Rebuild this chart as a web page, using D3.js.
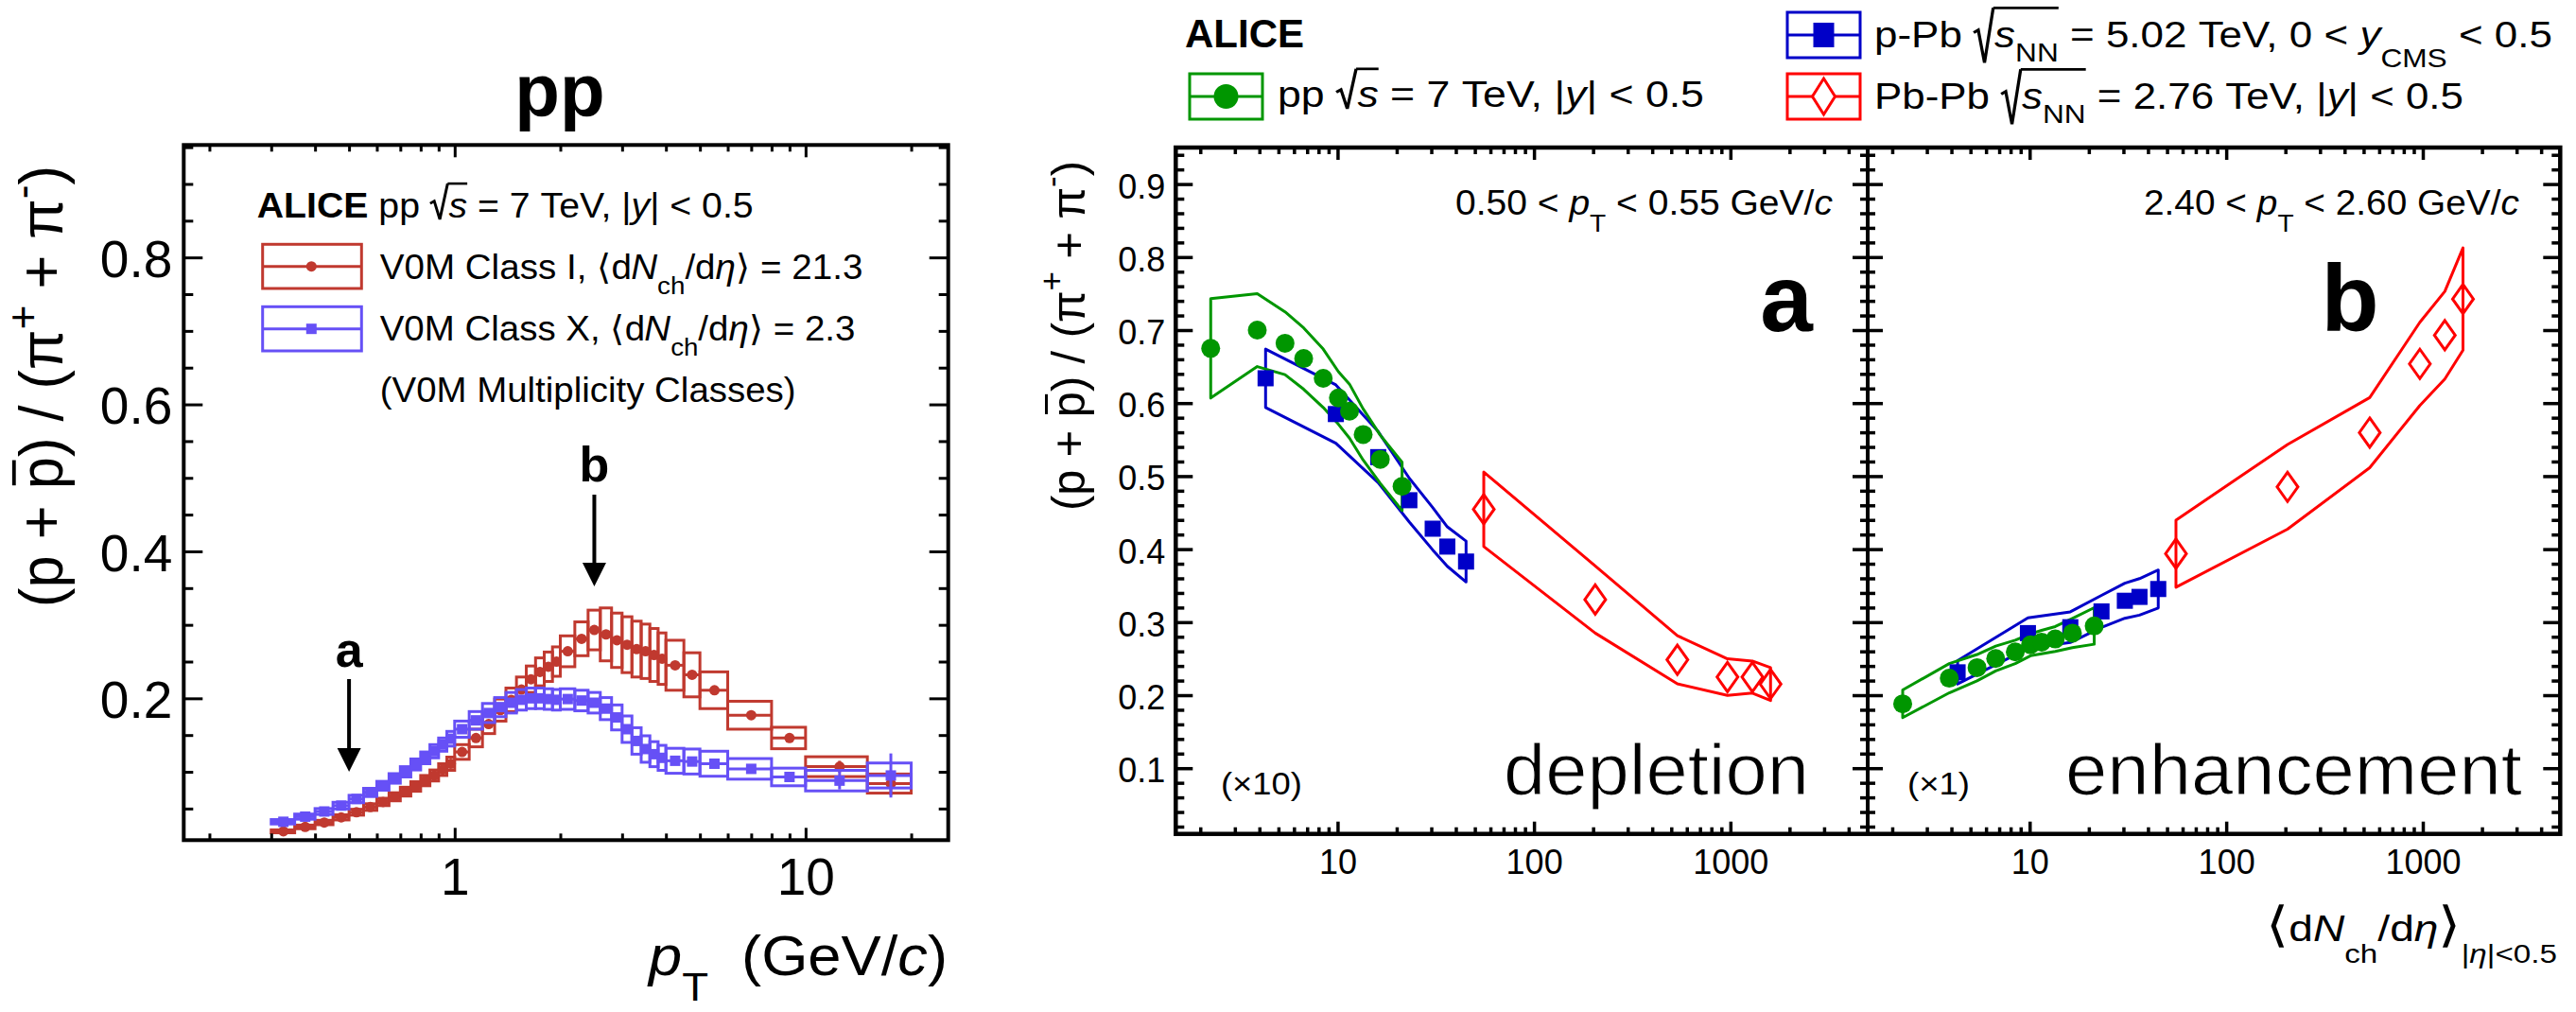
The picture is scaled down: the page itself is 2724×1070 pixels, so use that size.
<!DOCTYPE html>
<html>
<head>
<meta charset="utf-8">
<script src="https://cdn.jsdelivr.net/npm/d3@7/dist/d3.min.js"></script>
<style>
html, body { margin: 0; padding: 0; background: #fff; }
svg { display: block; }
text { font-family: "Liberation Sans", Arial, Helvetica, sans-serif; fill: #000; }
</style>
</head>
<body>
<svg id="fig" width="2724" height="1070"></svg>
<script>
// ---------------- pp 7 TeV: (p+pbar)/(pi+ + pi-) vs pT, two V0M classes ----------------
const ptEdges = [0.30, 0.35, 0.40, 0.45, 0.50, 0.55, 0.60, 0.65, 0.70, 0.75, 0.80, 0.85, 0.90, 0.95,
  1.0, 1.1, 1.2, 1.3, 1.4, 1.5, 1.6, 1.7, 1.8, 1.9,
  2.0, 2.2, 2.4, 2.6, 2.8, 3.0, 3.2, 3.4, 3.6, 3.8, 4.0,
  4.5, 5.0, 6.0, 8.0, 10, 15, 20];

// V0M Class I, <dNch/deta> = 21.3
const classIRatio = [0.019, 0.025, 0.031, 0.038, 0.045, 0.052, 0.059, 0.066, 0.073, 0.080, 0.088, 0.095, 0.103, 0.111,
  0.127, 0.146, 0.165, 0.184, 0.198, 0.212, 0.226, 0.236, 0.243, 0.250,
  0.264, 0.281, 0.293, 0.287, 0.279, 0.273, 0.267, 0.264, 0.259, 0.254,
  0.245, 0.232, 0.211, 0.177, 0.146, 0.107, 0.084];
const classISys = [0.002, 0.0025, 0.003, 0.0035, 0.004, 0.0045, 0.005, 0.0055, 0.006, 0.0065, 0.007, 0.0075, 0.008, 0.009,
  0.010, 0.012, 0.013, 0.015, 0.016, 0.017, 0.018, 0.019, 0.020, 0.020,
  0.021, 0.023, 0.027, 0.036, 0.037, 0.038, 0.038, 0.037, 0.036, 0.035,
  0.034, 0.030, 0.025, 0.019, 0.0146, 0.0135, 0.013];
const classIStat = [0.001, 0.001, 0.001, 0.001, 0.001, 0.001, 0.001, 0.001, 0.001, 0.001, 0.001, 0.001, 0.001, 0.001,
  0.001, 0.001, 0.001, 0.001, 0.001, 0.001, 0.001, 0.001, 0.001, 0.001,
  0.001, 0.001, 0.001, 0.001, 0.001, 0.001, 0.001, 0.001, 0.001, 0.001,
  0.002, 0.002, 0.002, 0.003, 0.005, 0.008, 0.016];

// V0M Class X, <dNch/deta> = 2.3
const classXRatio = [0.032, 0.039, 0.046, 0.054, 0.063, 0.072, 0.081, 0.091, 0.100, 0.110, 0.119, 0.128, 0.137, 0.145,
  0.158, 0.170, 0.180, 0.188, 0.194, 0.198, 0.200, 0.200, 0.199, 0.198,
  0.199, 0.197, 0.194, 0.186, 0.174, 0.158, 0.142, 0.131, 0.124, 0.119,
  0.115, 0.114, 0.111, 0.104, 0.093, 0.088, 0.095];
const classXSys = [0.003, 0.0035, 0.004, 0.0045, 0.005, 0.0055, 0.006, 0.0065, 0.007, 0.0075, 0.008, 0.009, 0.009, 0.010,
  0.011, 0.012, 0.013, 0.013, 0.014, 0.014, 0.014, 0.014, 0.014, 0.014,
  0.014, 0.014, 0.014, 0.015, 0.017, 0.018, 0.018, 0.018, 0.017, 0.017,
  0.017, 0.017, 0.017, 0.014, 0.012, 0.014, 0.017];
const classXStat = [0.001, 0.001, 0.001, 0.001, 0.001, 0.001, 0.001, 0.001, 0.001, 0.001, 0.001, 0.001, 0.001, 0.001,
  0.001, 0.001, 0.001, 0.001, 0.001, 0.001, 0.001, 0.001, 0.001, 0.001,
  0.001, 0.001, 0.001, 0.001, 0.001, 0.001, 0.001, 0.001, 0.001, 0.001,
  0.003, 0.003, 0.003, 0.004, 0.006, 0.012, 0.030];

// pT positions of the two highlighted intervals
const markerPt = { a: 0.5, b: 2.5 };

// ---------------- ratio vs <dNch/deta>, three collision systems ----------------
// low-pT values (0.50 < pT < 0.55 GeV/c) are shown multiplied by 10
const lowPtScale = 10;
const ppDnch = [2.26, 3.90, 5.40, 6.72, 8.45, 10.1, 11.5, 13.5, 16.5, 21.3];
const ppRatioLowPt = [0.0675, 0.0700, 0.0682, 0.0661, 0.0634, 0.0607, 0.0589, 0.0557, 0.0523, 0.0486];
const ppSysLowPt = [0.0068, 0.0050, 0.0043, 0.0042, 0.0040, 0.0036, 0.0037, 0.0035, 0.0033, 0.0033];
const ppRatioHighPt = [0.1882, 0.2232, 0.2377, 0.2502, 0.2593, 0.2690, 0.2727, 0.2770, 0.2850, 0.2948];
const ppSysHighPt = [0.019, 0.020, 0.018, 0.017, 0.016, 0.015, 0.016, 0.017, 0.020, 0.025];

const pPbDnch = [4.3, 9.8, 16.1, 23.2, 30.5, 36.2, 45.1];
const pPbRatioLowPt = [0.0634, 0.0585, 0.0526, 0.0467, 0.0428, 0.04035, 0.0383];
const pPbSysLowPt = [0.0040, 0.0040, 0.0035, 0.0030, 0.0029, 0.0027, 0.0028];
const pPbRatioHighPt = [0.2313, 0.2850, 0.2931, 0.3147, 0.3293, 0.3346, 0.3454];
const pPbSysHighPt = [0.016, 0.021, 0.021, 0.022, 0.024, 0.025, 0.026];

const PbPbDnch = [55.5, 205, 537, 966, 1294, 1601];
const PbPbRatioLowPt = [0.04546, 0.0331, 0.02485, 0.02248, 0.02248, 0.02152];
const PbPbSysLowPt = [0.0051, 0.0046, 0.0033, 0.0025, 0.0022, 0.00225];
const PbPbRatioHighPt = [0.3938, 0.4853, 0.5595, 0.6537, 0.6930, 0.7425];
const PbPbSysHighPt = [0.046, 0.058, 0.048, 0.057, 0.060, 0.070];

// axis tick values
const leftXMajor = [1, 10];
const leftYMajor = [0.2, 0.4, 0.6, 0.8];
const rightXMajor = [10, 100, 1000];
const rightYMajor = [0.1, 0.2, 0.3, 0.4, 0.5, 0.6, 0.7, 0.8, 0.9];

// ---------------- colours ----------------
const C = {
  classI: "#c0392f", classX: "#6650f6",
  pp: "#009600", pPb: "#0000c8", PbPb: "#ff0000"
};

const fig = d3.select("#fig");
const SERIF = '"Liberation Serif", "DejaVu Serif", "Times New Roman", serif';

// ---------------- rich text: italics, sub/superscripts, radicals, overlines ----------------
function rich(parent, parts, o) {
  const f = o.size;
  const g = parent.append("g")
    .attr("transform", `translate(${o.x},${o.y})${o.rotate ? ` rotate(${o.rotate})` : ""}`);
  const inner = g.append("g");
  const col = o.color || "#000";
  let cx = 0, rad = null;
  parts.forEach(p => {
    if (p.rad) {
      const top = -(p.top || 0.97) * f, bot = (p.bot || 0.05) * f;
      inner.append("path")
        .attr("d", `M${cx},${-0.40 * f} L${cx + 0.11 * f},${-0.47 * f} L${cx + 0.26 * f},${bot} L${cx + 0.47 * f},${top}`)
        .attr("fill", "none").attr("stroke", col).attr("stroke-width", 0.075 * f);
      rad = { x0: cx + 0.47 * f, x1: cx + 0.5 * f, y: top };
      cx += 0.5 * f;
      return;
    }
    const small = p.sub || p.sup;
    const fs = f * (small ? 0.72 : 1) * (p.scale || 1);
    const dy = (p.dy != null ? p.dy : p.sub ? 0.42 : p.sup ? -0.45 : 0) * f;
    const t = inner.append("text")
      .attr("x", cx).attr("y", dy)
      .attr("font-size", fs)
      .style("fill", col)
      .text(p.t.replace(/ /g, "\u00a0"));
    if (p.i) t.attr("font-style", "italic");
    if (p.b) t.attr("font-weight", "bold");
    if (p.serif) t.attr("font-family", SERIF);
    const w = t.node().getComputedTextLength();
    if (p.bar && rad) rad.x1 = cx + w;
    if (p.ov) {
      inner.append("line")
        .attr("x1", cx + 0.12 * w).attr("x2", cx + 0.9 * w)
        .attr("y1", -0.8 * f).attr("y2", -0.8 * f)
        .attr("stroke", col).attr("stroke-width", 0.06 * f);
    }
    cx += w + (p.gap || 0) * f;
  });
  if (rad) {
    inner.append("line").attr("x1", rad.x0).attr("x2", rad.x1)
      .attr("y1", rad.y).attr("y2", rad.y)
      .attr("stroke", col).attr("stroke-width", 0.07 * f);
  }
  const W = o.width || cx;
  const k = W / cx;
  const off = o.anchor === "end" ? -W : o.anchor === "middle" ? -W / 2 : 0;
  inner.attr("transform", `translate(${off},0) scale(${k},1)`);
  return g;
}

// ---------------- axes helpers ----------------
function logMinors(domain, majors) {
  const out = [];
  for (let e = -1; e <= 4; e++) {
    for (let m = 1; m < 10; m++) {
      const v = +(m * Math.pow(10, e)).toPrecision(6);
      if (v >= domain[0] && v <= domain[1] * 0.999 && !majors.some(M => Math.abs(M - v) / M < 1e-6)) out.push(v);
    }
  }
  return out;
}
function linMinors(domain, step, majors) {
  const out = [];
  const n0 = Math.ceil(domain[0] / step - 1e-9), n1 = Math.floor(domain[1] / step + 1e-9);
  for (let n = n0; n <= n1; n++) {
    const v = +(n * step).toFixed(6);
    if (!majors.some(M => Math.abs(M - v) < 1e-6)) out.push(v);
  }
  return out;
}
function addAxis(g, axis, tx, ty, o) {
  const a = g.append("g").attr("transform", `translate(${tx},${ty})`).call(axis);
  a.attr("font-family", null).attr("font-size", null);
  a.select(".domain").remove();
  a.selectAll(".tick line").attr("stroke", "#000").attr("stroke-width", o.tw);
  a.selectAll(".tick text").attr("font-size", o.fs).style("fill", "#000");
  if (o.dy) a.selectAll(".tick text").attr("dy", o.dy);
  return a;
}
const noLabel = () => "";

// ================= LEFT PANEL =================
const xL = d3.scaleLog().domain([0.169, 25.5]).range([194.3, 1002.7]);
const yL = d3.scaleLinear().domain([0.007, 0.953]).range([888.3, 153.3]);
const gL = fig.append("g");

const binsL = d3.range(ptEdges.length - 1).map(i => ({ lo: ptEdges[i], hi: ptEdges[i + 1], c: (ptEdges[i] + ptEdges[i + 1]) / 2 }));

function drawClass(ratio, sys, stat, color, shape) {
  const g = gL.append("g");
  const d = binsL.map((b, i) => ({ ...b, v: ratio[i], s: sys[i], e: stat[i] }));
  g.selectAll("rect.sys").data(d).join("rect").attr("class", "sys")
    .attr("x", q => xL(q.lo)).attr("width", q => xL(q.hi) - xL(q.lo))
    .attr("y", q => yL(q.v + q.s)).attr("height", q => yL(q.v - q.s) - yL(q.v + q.s))
    .attr("fill", "none").attr("stroke", color).attr("stroke-width", 3);
  g.selectAll("line.xe").data(d).join("line").attr("class", "xe")
    .attr("x1", q => xL(q.lo)).attr("x2", q => xL(q.hi))
    .attr("y1", q => yL(q.v)).attr("y2", q => yL(q.v))
    .attr("stroke", color).attr("stroke-width", 3);
  g.selectAll("line.ye").data(d).join("line").attr("class", "ye")
    .attr("x1", q => xL(q.c)).attr("x2", q => xL(q.c))
    .attr("y1", q => yL(q.v - q.e)).attr("y2", q => yL(q.v + q.e))
    .attr("stroke", color).attr("stroke-width", 3);
  if (shape === "circle") {
    g.selectAll("circle").data(d).join("circle")
      .attr("cx", q => xL(q.c)).attr("cy", q => yL(q.v)).attr("r", 5.5).attr("fill", color);
  } else {
    g.selectAll("rect.mk").data(d).join("rect").attr("class", "mk")
      .attr("x", q => xL(q.c) - 5.5).attr("y", q => yL(q.v) - 5.5)
      .attr("width", 11).attr("height", 11).attr("fill", color);
  }
}
drawClass(classIRatio, classISys, classIStat, C.classI, "circle");
drawClass(classXRatio, classXSys, classXStat, C.classX, "square");

// axes of left panel
{
  const o = { tw: 3, fs: 55 };
  const xMin = logMinors(xL.domain(), leftXMajor);
  const yMin = linMinors(yL.domain(), 0.05, leftYMajor);
  addAxis(gL, d3.axisBottom(xL).tickValues(leftXMajor).tickSize(-13).tickPadding(19).tickFormat(d3.format("")), 0, 888.3, o);
  addAxis(gL, d3.axisBottom(xL).tickValues(xMin).tickSize(-7).tickFormat(noLabel), 0, 888.3, o);
  addAxis(gL, d3.axisTop(xL).tickValues(leftXMajor).tickSize(-13).tickFormat(noLabel), 0, 153.3, o);
  addAxis(gL, d3.axisTop(xL).tickValues(xMin).tickSize(-7).tickFormat(noLabel), 0, 153.3, o);
  addAxis(gL, d3.axisLeft(yL).tickValues(leftYMajor).tickSize(-20).tickPadding(12).tickFormat(d3.format(".1f")), 194.3, 0, { ...o, dy: "0.37em" });
  addAxis(gL, d3.axisLeft(yL).tickValues(yMin).tickSize(-10).tickFormat(noLabel), 194.3, 0, o);
  addAxis(gL, d3.axisRight(yL).tickValues(leftYMajor).tickSize(-20).tickFormat(noLabel), 1002.7, 0, o);
  addAxis(gL, d3.axisRight(yL).tickValues(yMin).tickSize(-10).tickFormat(noLabel), 1002.7, 0, o);
  gL.append("rect").attr("x", 194.3).attr("y", 153.3).attr("width", 1002.7 - 194.3).attr("height", 888.3 - 153.3)
    .attr("fill", "none").attr("stroke", "#000").attr("stroke-width", 4);
}

// title, axis titles
gL.append("text").attr("x", 592).attr("y", 123).attr("text-anchor", "middle")
  .attr("font-size", 78).attr("font-weight", "bold").text("pp");
rich(gL, [{ t: "p", i: 1 }, { t: "T", sub: 1, dy: 0.45 }, { t: "  (GeV/" }, { t: "c", i: 1 }, { t: ")" }],
  { x: 1002, y: 1031, size: 60, anchor: "end", width: 316 });
rich(gL, [{ t: "(p + " }, { t: "p", ov: 1 }, { t: ") / (" }, { t: "π", serif: 1 }, { t: "+", sup: 1, dy: -0.4 },
  { t: " + " }, { t: "π", serif: 1 }, { t: "-", sup: 1, dy: -0.4 }, { t: ")" }],
  { x: 66, y: 642, size: 64, rotate: -90, width: 467 });

// legend
rich(gL, [{ t: "ALICE", b: 1 }, { t: " pp " }, { rad: 1 }, { t: "s", i: 1, bar: 1 }, { t: " = 7 TeV, |" }, { t: "y", i: 1 }, { t: "| < 0.5" }],
  { x: 271.7, y: 230, size: 37, width: 525 });
function legendBoxL(y0, color, shape) {
  gL.append("rect").attr("x", 277.7).attr("y", y0).attr("width", 104.6).attr("height", 46.7)
    .attr("fill", "none").attr("stroke", color).attr("stroke-width", 3);
  gL.append("line").attr("x1", 277.7).attr("x2", 382.3).attr("y1", y0 + 23.4).attr("y2", y0 + 23.4)
    .attr("stroke", color).attr("stroke-width", 3);
  if (shape === "circle") gL.append("circle").attr("cx", 329.3).attr("cy", y0 + 23.4).attr("r", 5.5).attr("fill", color);
  else gL.append("rect").attr("x", 323.8).attr("y", y0 + 17.9).attr("width", 11).attr("height", 11).attr("fill", color);
}
legendBoxL(258.3, C.classI, "circle");
legendBoxL(324.3, C.classX, "square");
rich(gL, [{ t: "V0M Class I, ⟨d" }, { t: "N", i: 1 }, { t: "ch", sub: 1, dy: 0.44 }, { t: "/d" }, { t: "η", i: 1, serif: 1 }, { t: "⟩ = 21.3" }],
  { x: 401.7, y: 295, size: 37, width: 510 });
rich(gL, [{ t: "V0M Class X, ⟨d" }, { t: "N", i: 1 }, { t: "ch", sub: 1, dy: 0.44 }, { t: "/d" }, { t: "η", i: 1, serif: 1 }, { t: "⟩ = 2.3" }],
  { x: 401.7, y: 360, size: 37, width: 502 });
rich(gL, [{ t: "(V0M Multiplicity Classes)" }], { x: 401.7, y: 425, size: 37, width: 440 });

// arrows marking the two pT intervals
function arrow(pt, yTop, yTip, label, labelY) {
  const x = xL(pt);
  gL.append("line").attr("x1", x).attr("x2", x).attr("y1", yTop).attr("y2", yTip - 20)
    .attr("stroke", "#000").attr("stroke-width", 4);
  gL.append("path").attr("d", `M${x - 12.5},${yTip - 25} L${x + 12.5},${yTip - 25} L${x},${yTip} Z`).attr("fill", "#000");
  gL.append("text").attr("x", x).attr("y", labelY).attr("text-anchor", "middle")
    .attr("font-size", 52).attr("font-weight", "bold").text(label);
}
arrow(markerPt.a, 718, 816, "a", 705);
arrow(markerPt.b, 523, 620, "b", 509);

// ================= RIGHT PANELS =================
const yR = d3.scaleLinear().domain([0.01, 0.95]).range([881.7, 156]);
const xA = d3.scaleLog().domain([1.5, 5000]).range([1243.3, 1975]);
const xB = d3.scaleLog().domain([1.5, 5000]).range([1975, 2707.3]);
const gR = fig.append("g");

function series(dn, ratio, sys, scale) {
  return dn.map((m, i) => ({ m, v: ratio[i] * scale, s: sys[i] * scale })).sort((a, b) => a.m - b.m);
}
function band(g, x, d, color) {
  const line = d3.line().x(q => x(q.m)).y(q => yR(q.y));
  const pts = d.map(q => ({ m: q.m, y: q.v + q.s })).concat(d.slice().reverse().map(q => ({ m: q.m, y: q.v - q.s })));
  g.append("path").attr("d", line(pts) + "Z").attr("fill", "none").attr("stroke", color).attr("stroke-width", 3)
    .attr("stroke-linejoin", "round");
}
function drawPanel(x, pp, pPb, PbPb) {
  const g = gR.append("g");
  band(g, x, PbPb, C.PbPb);
  band(g, x, pPb, C.pPb);
  band(g, x, pp, C.pp);
  g.selectAll("rect.ppb").data(pPb).join("rect").attr("class", "ppb")
    .attr("x", q => x(q.m) - 8.5).attr("y", q => yR(q.v) - 8.5).attr("width", 17).attr("height", 17).attr("fill", C.pPb);
  g.selectAll("circle.pp").data(pp).join("circle").attr("class", "pp")
    .attr("cx", q => x(q.m)).attr("cy", q => yR(q.v)).attr("r", 10).attr("fill", C.pp);
  g.selectAll("path.pbpb").data(PbPb).join("path").attr("class", "pbpb")
    .attr("d", q => { const cx = x(q.m), cy = yR(q.v); return `M${cx},${cy - 15.5} L${cx + 11},${cy} L${cx},${cy + 15.5} L${cx - 11},${cy} Z`; })
    .attr("fill", "none").attr("stroke", C.PbPb).attr("stroke-width", 3);
}
drawPanel(xA,
  series(ppDnch, ppRatioLowPt, ppSysLowPt, lowPtScale),
  series(pPbDnch, pPbRatioLowPt, pPbSysLowPt, lowPtScale),
  series(PbPbDnch, PbPbRatioLowPt, PbPbSysLowPt, lowPtScale));
drawPanel(xB,
  series(ppDnch, ppRatioHighPt, ppSysHighPt, 1),
  series(pPbDnch, pPbRatioHighPt, pPbSysHighPt, 1),
  series(PbPbDnch, PbPbRatioHighPt, PbPbSysHighPt, 1));

// axes of the right panels
{
  const o = { tw: 3.5, fs: 36 };
  const yMin = linMinors(yR.domain(), 0.02, rightYMajor);
  [xA, xB].forEach(x => {
    const xMin = logMinors(x.domain(), rightXMajor);
    addAxis(gR, d3.axisBottom(x).tickValues(rightXMajor).tickSize(-13).tickPadding(17).tickFormat(d3.format("")), 0, 881.7, o);
    addAxis(gR, d3.axisBottom(x).tickValues(xMin).tickSize(-7).tickFormat(noLabel), 0, 881.7, o);
    addAxis(gR, d3.axisTop(x).tickValues(rightXMajor).tickSize(-13).tickFormat(noLabel), 0, 156, o);
    addAxis(gR, d3.axisTop(x).tickValues(xMin).tickSize(-7).tickFormat(noLabel), 0, 156, o);
  });
  addAxis(gR, d3.axisLeft(yR).tickValues(rightYMajor).tickSize(-18).tickPadding(11).tickFormat(d3.format(".1f")), 1243.3, 0, { ...o, dy: "0.4em" });
  addAxis(gR, d3.axisLeft(yR).tickValues(yMin).tickSize(-9).tickFormat(noLabel), 1243.3, 0, o);
  addAxis(gR, d3.axisRight(yR).tickValues(rightYMajor).tickSize(-16).tickFormat(noLabel), 1975, 0, o);
  addAxis(gR, d3.axisRight(yR).tickValues(yMin).tickSize(-8).tickFormat(noLabel), 1975, 0, o);
  addAxis(gR, d3.axisLeft(yR).tickValues(rightYMajor).tickSize(-16).tickFormat(noLabel), 1975, 0, o);
  addAxis(gR, d3.axisLeft(yR).tickValues(yMin).tickSize(-8).tickFormat(noLabel), 1975, 0, o);
  addAxis(gR, d3.axisRight(yR).tickValues(rightYMajor).tickSize(-18).tickFormat(noLabel), 2707.3, 0, o);
  addAxis(gR, d3.axisRight(yR).tickValues(yMin).tickSize(-9).tickFormat(noLabel), 2707.3, 0, o);
  gR.append("rect").attr("x", 1243.3).attr("y", 156).attr("width", 2707.3 - 1243.3).attr("height", 881.7 - 156)
    .attr("fill", "none").attr("stroke", "#000").attr("stroke-width", 4.5);
  gR.append("line").attr("x1", 1975).attr("x2", 1975).attr("y1", 156).attr("y2", 881.7)
    .attr("stroke", "#000").attr("stroke-width", 4);
}

// axis titles
rich(gR, [{ t: "(p + " }, { t: "p", ov: 1 }, { t: ") / (" }, { t: "π", serif: 1 }, { t: "+", sup: 1, dy: -0.45 },
  { t: " + " }, { t: "π", serif: 1 }, { t: "-", sup: 1, dy: -0.45 }, { t: ")" }],
  { x: 1146.5, y: 540, size: 50, rotate: -90, width: 370 });
rich(gR, [{ t: "⟨", scale: 1.35 }, { t: "d" }, { t: "N", i: 1 }, { t: "ch", sub: 1, dy: 0.6 }, { t: "/d" }, { t: "η", i: 1, serif: 1 },
  { t: "⟩", scale: 1.35 }, { t: "|", sub: 1, dy: 0.6 }, { t: "η", sub: 1, dy: 0.6, i: 1, serif: 1 }, { t: "|<0.5", sub: 1, dy: 0.6 }],
  { x: 2396, y: 995, size: 38, width: 308 });

// panel annotations
rich(gR, [{ t: "0.50 < " }, { t: "p", i: 1 }, { t: "T", sub: 1, dy: 0.48 }, { t: " < 0.55 GeV/" }, { t: "c", i: 1 }],
  { x: 1938, y: 227, size: 37, anchor: "end", width: 399 });
rich(gR, [{ t: "2.40 < " }, { t: "p", i: 1 }, { t: "T", sub: 1, dy: 0.48 }, { t: " < 2.60 GeV/" }, { t: "c", i: 1 }],
  { x: 2664, y: 227, size: 37, anchor: "end", width: 397 });
gR.append("text").attr("x", 1889).attr("y", 350).attr("text-anchor", "middle").attr("font-size", 100).attr("font-weight", "bold").text("a");
gR.append("text").attr("x", 2485).attr("y", 350).attr("text-anchor", "middle").attr("font-size", 100).attr("font-weight", "bold").text("b");
rich(gR, [{ t: "(×10)" }], { x: 1291, y: 840, size: 33, width: 86 });
rich(gR, [{ t: "(×1)" }], { x: 2017, y: 840, size: 33, width: 66 });
// large light-weight words; a thin white outline keeps the strokes slender
[["depletion", 1913, 323], ["enhancement", 2667, 483]].forEach(([word, xr, len]) => {
  gR.append("text").attr("x", xr).attr("y", 840).attr("text-anchor", "end").attr("font-size", 76)
    .attr("font-family", "Roboto, 'Liberation Sans', sans-serif").attr("font-weight", 300)
    .attr("textLength", len).attr("lengthAdjust", "spacingAndGlyphs")
    .style("stroke", "#fff").style("stroke-width", 1.1)
    .text(word);
});

// legend of the right panels
gR.append("text").attr("x", 1253).attr("y", 50).attr("font-size", 42).attr("font-weight", "bold").text("ALICE");
function legendBoxR(x0, y0, color, shape) {
  gR.append("rect").attr("x", x0).attr("y", y0).attr("width", 77).attr("height", 48)
    .attr("fill", "none").attr("stroke", color).attr("stroke-width", 3);
  gR.append("line").attr("x1", x0).attr("x2", x0 + 77).attr("y1", y0 + 24).attr("y2", y0 + 24)
    .attr("stroke", color).attr("stroke-width", 3);
  const cx = x0 + 38.5, cy = y0 + 24;
  if (shape === "circle") gR.append("circle").attr("cx", cx).attr("cy", cy).attr("r", 13).attr("fill", color);
  else if (shape === "square") gR.append("rect").attr("x", cx - 11).attr("y", cy - 13).attr("width", 22).attr("height", 26).attr("fill", color);
  else gR.append("path").attr("d", `M${cx},${cy - 19} L${cx + 12},${cy} L${cx},${cy + 19} L${cx - 12},${cy} Z`)
    .attr("fill", "#fff").attr("stroke", color).attr("stroke-width", 3);
}
legendBoxR(1258, 78, C.pp, "circle");
legendBoxR(1890, 13, C.pPb, "square");
legendBoxR(1890, 78, C.PbPb, "diamond");
rich(gR, [{ t: "pp " }, { rad: 1, top: 1.03 }, { t: "s", i: 1, bar: 1 }, { t: " = 7 TeV, |" }, { t: "y", i: 1 }, { t: "| < 0.5" }],
  { x: 1351, y: 113, size: 39, width: 451 });
rich(gR, [{ t: "p-Pb " }, { rad: 1, top: 1.07, bot: 0.42 }, { t: "s", i: 1, bar: 1 }, { t: "NN", sub: 1, dy: 0.38, bar: 1 },
  { t: " = 5.02 TeV, 0 < " }, { t: "y", i: 1 }, { t: "CMS", sub: 1, dy: 0.55 }, { t: " < 0.5" }],
  { x: 1982, y: 50, size: 39, width: 717 });
rich(gR, [{ t: "Pb-Pb " }, { rad: 1, top: 1.07, bot: 0.42 }, { t: "s", i: 1, bar: 1 }, { t: "NN", sub: 1, dy: 0.38, bar: 1 },
  { t: " = 2.76 TeV, |" }, { t: "y", i: 1 }, { t: "| < 0.5" }],
  { x: 1982, y: 115, size: 39, width: 623 });
</script>
</body>
</html>
